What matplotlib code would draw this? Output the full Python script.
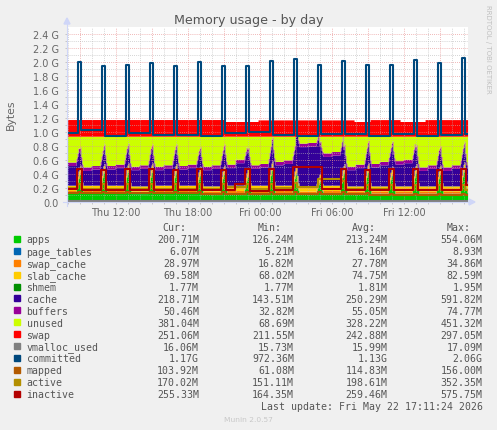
import numpy as np
import matplotlib
matplotlib.use('Agg')
import matplotlib.pyplot as plt
from matplotlib.patches import Rectangle, Polygon
from matplotlib.lines import Line2D

W, H = 497, 431

# hours since Thu 00:00, one sample = 5 min (= one pixel of the rrd graph)
t_start, t_end = 7.92, 41.33
sample_h = 5.0 / 60

# the 2-hourly job that makes the spikes
spike_hours = [8.95, 10.95, 12.95, 14.95, 16.95, 18.95, 20.95, 22.95, 24.95, 26.95,
               28.95, 30.95, 32.95, 34.95, 36.95, 38.95, 40.95]

# values in G. *_base: one per stretch between spikes (18), *_peak: one per spike (17)
apps_base = [0.13, 0.13, 0.13, 0.12, 0.13, 0.13, 0.12, 0.13, 0.13, 0.13, 0.12, 0.13,
             0.12, 0.12, 0.12, 0.12, 0.12, 0.13]
apps_peak = [0.42, 0.44, 0.45, 0.45, 0.44, 0.40, 0.42, 0.38, 0.48, 0.42, 0.30, 0.44,
             0.45, 0.40, 0.44, 0.42, 0.46]
spike_shape = [0.2, 0.45, 0.7, 0.9, 1.0, 0.5, 0.15]  # apps rise, samples -3..+3
page_tables = 0.006
swap_cache = 0.028
slab_cache = 0.075
shmem = 0.002
buffers = 0.05
vmalloc_used = 0.016
ram_total = 0.94

# cache and inactive: two values per stretch (first hour, second hour)
cache_base = [0.28, 0.28, 0.21, 0.23, 0.23, 0.25, 0.23, 0.25, 0.22, 0.24,
              0.23, 0.25, 0.23, 0.25, 0.25, 0.32, 0.24, 0.26, 0.29, 0.31,
              0.56, 0.57, 0.41, 0.43, 0.23, 0.26, 0.27, 0.30, 0.31, 0.33,
              0.22, 0.25, 0.22, 0.25, 0.24, 0.24]
inactive_base = [0.19, 0.19, 0.17, 0.17, 0.17, 0.17, 0.17, 0.17, 0.17, 0.17,
                 0.17, 0.17, 0.17, 0.17, 0.17, 0.26, 0.16, 0.16, 0.17, 0.17,
                 0.50, 0.50, 0.19, 0.19, 0.17, 0.17, 0.17, 0.17, 0.17, 0.17,
                 0.17, 0.17, 0.17, 0.17, 0.25, 0.25]
inactive_peak = [0.47, 0.46, 0.47, 0.47, 0.46, 0.47, 0.46, 0.47, 0.47, 0.50, 0.50,
                 0.47, 0.46, 0.47, 0.47, 0.46, 0.47]

committed_base = [0.99, 1.03, 0.95, 0.98, 0.96, 0.96, 0.95, 0.99, 1.00, 0.96, 0.95,
                  0.97, 0.97, 0.95, 0.97, 0.95, 0.96, 0.97]
committed_peak = [2.00, 1.94, 1.96, 1.98, 1.95, 2.00, 1.95, 1.95, 2.01, 2.04, 1.96,
                  2.01, 1.96, 1.96, 2.03, 1.98, 2.06]
active_base = [0.20, 0.19, 0.19, 0.19, 0.19, 0.19, 0.19, 0.21, 0.19, 0.20, 0.21,
               0.33, 0.18, 0.18, 0.17, 0.17, 0.17, 0.17]
active_peak = [0.26, 0.26, 0.26, 0.26, 0.26, 0.26, 0.26, 0.26, 0.26, 0.27, 0.33,
               0.30, 0.25, 0.25, 0.25, 0.25, 0.25]
mapped_base = [0.13, 0.13, 0.13, 0.13, 0.13, 0.13, 0.12, 0.12, 0.12, 0.12, 0.12,
               0.12, 0.11, 0.10, 0.10, 0.10, 0.10, 0.10]
mapped_peak = [0.15, 0.15, 0.15, 0.15, 0.15, 0.15, 0.14, 0.14, 0.14, 0.14, 0.14,
               0.14, 0.13, 0.12, 0.12, 0.12, 0.12]

swap_change_hours = [7.92, 21.08, 23.83, 31.83, 33.17, 35.67, 37.75]
swap_values = [0.238, 0.21, 0.233, 0.21, 0.237, 0.21, 0.237]

# legend table
names = ['apps', 'page_tables', 'swap_cache', 'slab_cache', 'shmem', 'cache', 'buffers',
         'unused', 'swap', 'vmalloc_used', 'committed', 'mapped', 'active', 'inactive']
colors = ['#00CC00', '#0066B3', '#FF8000', '#FFCC00', '#008F00', '#330099', '#990099',
          '#CCFF00', '#FF0000', '#808080', '#00487D', '#B35A00', '#B38F00', '#B30000']
cur_vals = ['200.71M', '6.07M', '28.97M', '69.58M', '1.77M', '218.71M', '50.46M',
            '381.04M', '251.06M', '16.06M', '1.17G', '103.92M', '170.02M', '255.33M']
min_vals = ['126.24M', '5.21M', '16.82M', '68.02M', '1.77M', '143.51M', '32.82M',
            '68.69M', '211.55M', '15.73M', '972.36M', '61.08M', '151.11M', '164.35M']
avg_vals = ['213.24M', '6.16M', '27.78M', '74.75M', '1.81M', '250.29M', '55.05M',
            '328.22M', '242.88M', '15.99M', '1.13G', '114.83M', '198.61M', '259.46M']
max_vals = ['554.06M', '8.93M', '34.86M', '82.59M', '1.95M', '591.82M', '74.77M',
            '451.32M', '297.05M', '17.09M', '2.06G', '156.00M', '352.35M', '575.75M']

x_tick_hours = [9, 12, 15, 18, 21, 24, 27, 30, 33, 36, 39]
x_tick_labels = ['', 'Thu 12:00', '', 'Thu 18:00', '', 'Fri 00:00', '', 'Fri 06:00', '',
                 'Fri 12:00', '']

# ---- build the sampled series ----
n = int(round((t_end - t_start) / sample_h))
t = t_start + sample_h * (np.arange(n) + 0.5)
spikes = np.array(spike_hours)
seg = np.searchsorted(spikes, t)
seg_start = np.where(seg > 0, spikes[np.maximum(seg - 1, 0)], spikes[0] - 2)
half = 2 * seg + (t - seg_start > 1).astype(int)
spike_idx = ((spikes - t_start) / sample_h).astype(int)


def put_spikes(series, peaks, offsets):
    s = series.copy()
    for i, p in zip(spike_idx, peaks):
        for o in offsets:
            if 0 <= i + o < n:
                s[i + o] = p
    return s


apps = np.array(apps_base, dtype=float)[seg]
for i, p in zip(spike_idx, apps_peak):
    for o, f in zip(range(-3, 4), spike_shape):
        if 0 <= i + o < n:
            apps[i + o] = apps[i + o] + (p - apps[i + o]) * f

cache = np.array(cache_base)[half]
inactive = put_spikes(np.array(inactive_base)[half], inactive_peak, range(-2, 3))
committed = put_spikes(np.array(committed_base)[seg], committed_peak, range(-1, 2))
active = put_spikes(np.array(active_base)[seg], active_peak, range(-1, 2))
mapped = put_spikes(np.array(mapped_base)[seg], mapped_peak, range(-1, 2))
swap = np.array(swap_values)[np.searchsorted(swap_change_hours, t, side='right') - 1]

ones = np.ones(n)
used = apps + (page_tables + swap_cache + slab_cache + shmem + buffers) * ones + cache
unused = ram_total - used

stack = [apps, page_tables * ones, swap_cache * ones, slab_cache * ones, shmem * ones,
         cache, buffers * ones, unused, swap]
lines = [vmalloc_used * ones, committed, mapped, active, inactive]

# ---- figure ----
fig = plt.figure(figsize=(W / 100, H / 100), dpi=100, facecolor='#F0F0F0')
ax = fig.add_axes([67 / W, 1 - 203 / H, 401 / W, 175 / H])
ax.set_facecolor('white')

lower = np.zeros(n)
for vals, c in zip(stack, colors[:9]):
    upper = lower + vals
    ax.fill_between(t, lower, upper, step='mid', color=c, linewidth=0, zorder=1)
    lower = upper

for vals, c in zip(lines, colors[9:]):
    ax.plot(t, vals, drawstyle='steps-mid', color=c, lw=1.5, zorder=3)

ax.set_xlim(t_start, t_end)
ax.set_ylim(0, 2.5)

yt = np.arange(0, 2.41, 0.2)
ax.set_yticks(yt)
ax.set_yticklabels(['0.0'] + ['%.1f G' % v for v in yt[1:]])
ax.set_yticks(np.arange(0.1, 2.5, 0.2), minor=True)
ax.set_xticks(x_tick_hours)
ax.set_xticklabels(x_tick_labels)
ax.set_xticks(np.arange(8, 42, 1), minor=True)

ax.set_axisbelow(False)
ax.grid(which='major', color='#E89090', alpha=0.85, ls=(0, (1, 1.5)), lw=0.6, zorder=2)
ax.grid(which='minor', color='#B8B8B8', alpha=0.8, ls=(0, (1, 1.5)), lw=0.6, zorder=2)

ax.tick_params(which='both', length=1.5, width=0.6, color='#C0C0C0',
               labelsize=7, labelcolor='#666666')
ax.tick_params(axis='y', pad=4.3)
ax.tick_params(axis='x', pad=2.2)
for s in ['top', 'right', 'left', 'bottom']:
    ax.spines[s].set_visible(False)


def fx(x):
    return x / W


def fy(y):
    return 1 - y / H


axis_col = '#CFD6F8'
fig.add_artist(Line2D([fx(67), fx(67)], [fy(207), fy(24)], color=axis_col, lw=0.8))
fig.add_artist(Line2D([fx(63), fx(470)], [fy(203), fy(203)], color=axis_col, lw=0.8))
fig.add_artist(Polygon([[fx(64), fy(25)], [fx(70), fy(25)], [fx(67), fy(19)]],
                       closed=True, color=axis_col))
fig.add_artist(Polygon([[fx(469), fy(200)], [fx(469), fy(206)], [fx(475), fy(203)]],
                       closed=True, color=axis_col))

fig.text(0.5, fy(24), 'Memory usage - by day', ha='center', va='baseline',
         fontsize=9.1, color='#555555')
fig.text(fx(11), fy(115), 'Bytes', rotation=90, ha='center', va='center',
         fontsize=7.8, color='#666666')
fig.text(fx(488), fy(5), 'RRDTOOL / TOBI OETIKER', rotation=270, ha='center', va='top',
         fontsize=5, color='#C0C0C0')

mono = 'DejaVu Sans Mono'
fs = 7.1
txt = '#555555'
col_right = [199, 294, 387.7, 482.7]
for xr, head in zip(col_right, ['Cur:', 'Min:', 'Avg:', 'Max:']):
    fig.text(fx(xr - 12.3), fy(231), head, ha='right', va='baseline', family=mono,
             fontsize=fs, color=txt)

for k, name in enumerate(names):
    yb = 243.0 + k * 11.95
    fig.add_artist(Rectangle((fx(14), fy(yb - 0.3)), 6 / W, 6 / H, color=colors[k]))
    fig.text(fx(26.5), fy(yb), name, ha='left', va='baseline', family=mono,
             fontsize=fs, color=txt)
    for xr, v in zip(col_right, [cur_vals[k], min_vals[k], avg_vals[k], max_vals[k]]):
        fig.text(fx(xr), fy(yb), v, ha='right', va='baseline', family=mono,
                 fontsize=fs, color=txt)

fig.text(fx(482.7), fy(410.5), 'Last update: Fri May 22 17:11:24 2026', ha='right',
         va='baseline', family=mono, fontsize=fs, color=txt)
fig.text(fx(248), fy(422), 'Munin 2.0.57', ha='center', va='baseline',
         fontsize=5.4, color='#C8C8C8')

fig.savefig('out.png', dpi=100, facecolor=fig.get_facecolor())
